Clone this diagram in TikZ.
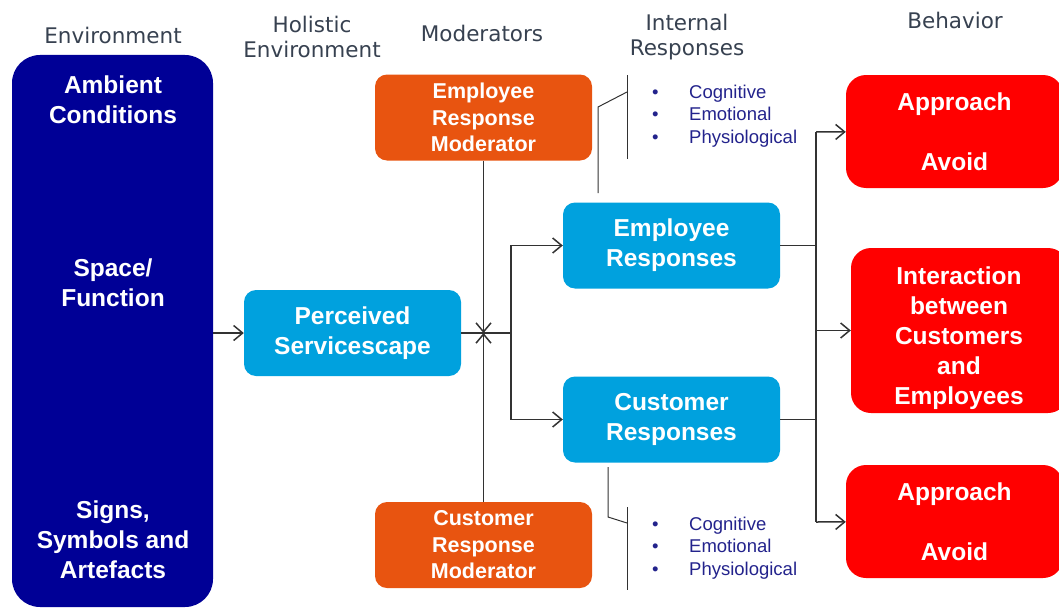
\documentclass[tikz,border=0pt]{standalone}
\usepackage{fontspec}
\setmainfont{Liberation Sans}
\newfontfamily\headfont{DejaVu Sans}
\usetikzlibrary{arrows.meta,positioning}
\definecolor{envblue}{RGB}{0,0,150}
\definecolor{percblue}{RGB}{0,161,222}
\definecolor{modorange}{RGB}{232,84,16}
\definecolor{behred}{RGB}{255,0,0}
\definecolor{headgray}{RGB}{55,65,80}
\definecolor{bulletblue}{RGB}{35,35,140}
\definecolor{linegray}{RGB}{50,50,50}
\newcommand\boxfont{\bfseries\fontsize{24.5}{30}\selectfont}
\newcommand\modfont{\bfseries\fontsize{21.5}{26.5}\selectfont}

\begin{document}
\begin{tikzpicture}[x=1pt,y=-1pt]%
        \useasboundingbox (0,0) rectangle (1059,610);
        \clip (0,0) rectangle (1059,610);
        %\draw[step=50,color=gray,very thin] (0,0) grid (1059,610);%%
        \begin{scope}
        \tikzstyle{every node}=[font=\headfont\fontsize{21.5}{25.5}\selectfont,text=headgray,align=center] %%
        \node (henv) at (113,35)  {Environment}; %%
        \node (hhol) at (312,37)  {Holistic\\Environment}; %%
        \node (hmod) at (482,33)  {Moderators}; %%
        \node (hint) at (687,37)  {Internal\\Responses}; %%
        \node (hbeh) at (955,20)  {Behavior}; %%
        \end{scope}
        \begin{scope}
        \tikzstyle{every node}=[inner sep=0pt,text=white,align=center,font=\boxfont] %%
        \node[fill=envblue,rounded corners=28pt,minimum width=201,minimum height=552] (env) at (112.5,331) {}; %%
        \node (amb) at (113,100)  {Ambient\\Conditions}; %%
        \node (spa) at (113,283)  {Space/\\Function}; %%
        \node (sig) at (113,540)  {Signs,\\Symbols and\\Artefacts}; %%
        \end{scope}
        \begin{scope}
        \tikzstyle{every node}=[inner sep=0pt,text=white,align=center,fill=percblue,rounded corners=12pt,minimum width=217,minimum height=86,font=\boxfont] %%
        \node (perc) at (352.5,333)  {Perceived\\Servicescape}; %%
        \node (emp) at (671.5,245.5)  {Employee\\Responses}; %%
        \node (cus) at (671.5,419.5)  {Customer\\Responses}; %%
        \end{scope}
        \begin{scope}
        \tikzstyle{every node}=[inner sep=0pt,text=white,align=center,fill=modorange,rounded corners=12pt,minimum width=217,minimum height=86,font=\modfont] %%
        \node (emod) at (483.5,117.5)  {Employee\\Response\\Moderator}; %%
        \node (cmod) at (483.5,545)  {Customer\\Response\\Moderator}; %%
        \end{scope}
        \begin{scope}
        \tikzstyle{every node}=[inner sep=0pt,text=white,align=center,fill=behred,rounded corners=20pt,minimum width=217,font=\boxfont] %%
        \node[minimum height=113] (appt) at (954.5,131.5)  {Approach\\[30pt]Avoid}; %%
        \node[minimum height=165] (inter) at (959.5,330.5)  {}; %%
        \node[fill=none] (intxt) at (959,338)  {Interaction\\between\\Customers\\and\\Employees}; %%
        \node[minimum height=113] (appb) at (954.5,521.5)  {Approach\\[30pt]Avoid}; %%
        \end{scope}
        \begin{scope}
        \tikzstyle{every node}=[inner sep=0pt,text=bulletblue,align=left,anchor=west,font=\fontsize{18.5}{22.5}\selectfont] %%
        \node (irt) at (652,116)  {\makebox[37pt][l]{\textbullet}Cognitive\\\makebox[37pt][l]{\textbullet}Emotional\\\makebox[37pt][l]{\textbullet}Physiological}; %%
        \node (irb) at (652,548)  {\makebox[37pt][l]{\textbullet}Cognitive\\\makebox[37pt][l]{\textbullet}Emotional\\\makebox[37pt][l]{\textbullet}Physiological}; %%
        \end{scope}
        \begin{scope}[draw=linegray,line width=1.5pt,>={Straight Barb[length=9pt,width=15pt]}]
        \coordinate (jn) at (511,333); %%
        \coordinate (bt) at (816,132); %%
        \coordinate (bb) at (816,522); %%
        \draw[->] (env.east |- perc)--(perc);  %%
        \draw (perc)--(jn);  %%
        \draw[->] (jn)|-(emp);  %%
        \draw[->] (jn)|-(cus);  %%
        \draw[->] (emod)--(emod |- perc);  %%
        \draw[->] (cmod)--(cmod |- perc);  %%
        \draw (emp)--(emp -| bt);  %%
        \draw (cus)--(cus -| bt);  %%
        \draw (bt)--(bb);  %%
        \draw[->] (bt)--(appt);  %%
        \draw[->] (bt |- inter)--(inter);  %%
        \draw[->] (bb)--(appb);  %%
        \end{scope}
        \begin{scope}[draw=linegray,line width=1pt]
        \coordinate (ta) at (598,193); %%
        \coordinate (tb) at (627,92); %%
        \coordinate (ba) at (608,467); %%
        \coordinate (bc) at (627,523); %%
        \draw (ta)--(ta |- 0,107)--(tb); %%
        \draw (627,75)--(627,159); %%
        \draw (ba)--(ba |- 0,517)--(bc); %%
        \draw (627,507)--(627,590); %%
        \end{scope}
        \end{tikzpicture}
\end{document}
